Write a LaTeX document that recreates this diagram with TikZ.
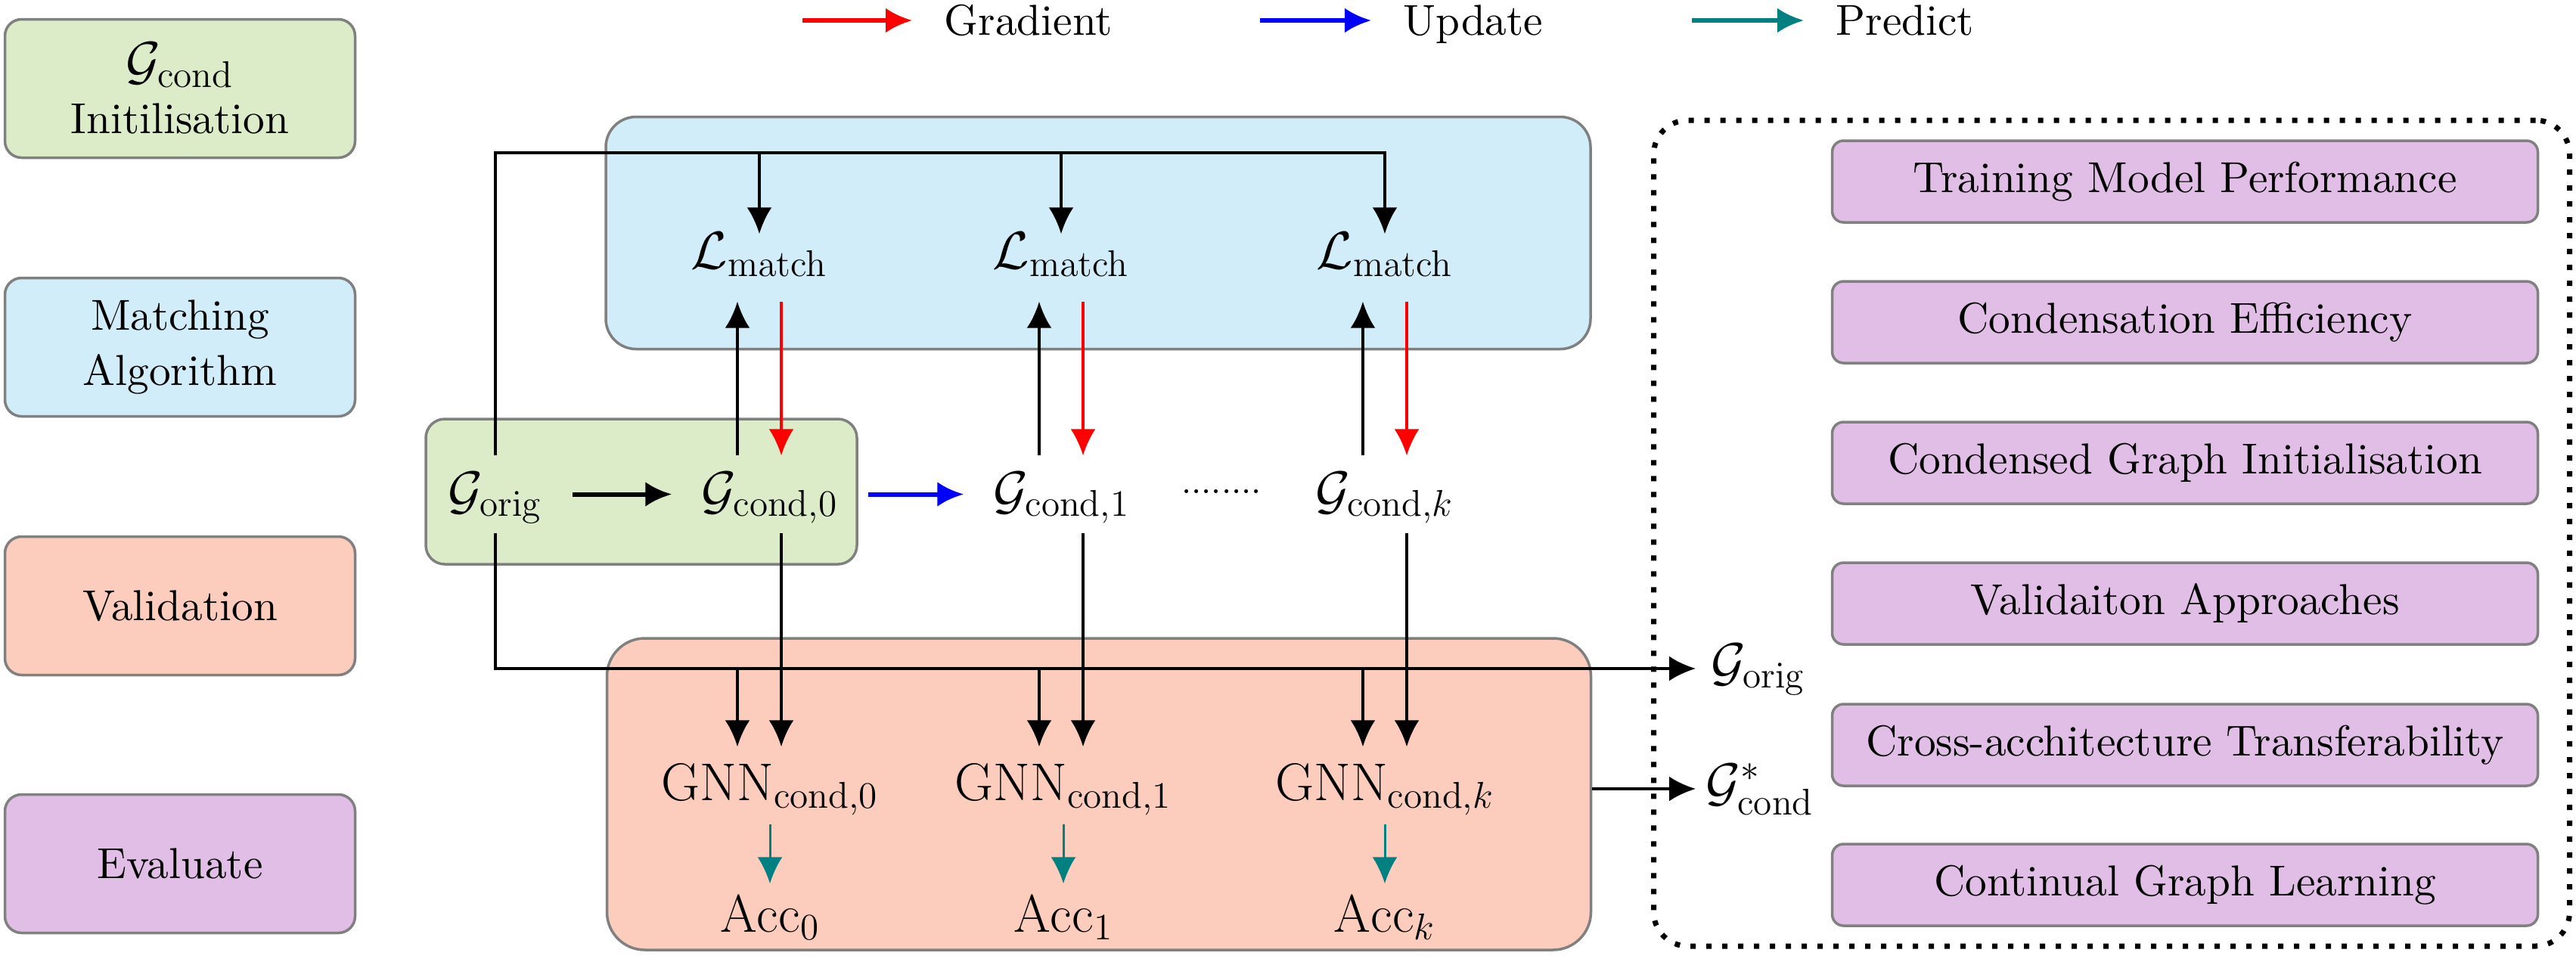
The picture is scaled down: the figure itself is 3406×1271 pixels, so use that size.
\RequirePackage{fix-cm}
\documentclass[tikz,border=0pt]{standalone}
\usepackage{amsmath}
\usepackage{amssymb}
\usepackage[no-math]{fontspec}
\setmainfont{lmroman10-regular.otf}[BoldFont=lmroman10-bold.otf, ItalicFont=lmroman10-italic.otf]
\usepackage{tikz}
\usetikzlibrary{arrows.meta}
\newcommand{\Gs}[1]{\mathcal{G}_{\mathrm{#1}}}
\newcommand{\mainsize}{\fontsize{20}{24}\selectfont}
\definecolor{initgreen}{RGB}{220,235,200}
\definecolor{matchblue}{RGB}{209,237,250}
\definecolor{valred}{RGB}{252,204,188}
\definecolor{evalpurple}{RGB}{225,190,230}
\definecolor{predteal}{RGB}{0,128,128}
\tikzset{
  tip/.style={-{Latex[length=3.5mm,width=3.3mm]}, line width=0.4mm},
  grad/.style={tip, red, line width=0.33mm},
  pred/.style={tip, predteal, line width=0.3mm},
  sidebox/.style={draw=black!50, line width=0.35mm, rounded corners=2.2mm, minimum width=46.3mm,
    minimum height=18.3mm, align=center, font=\fontsize{16.3}{20.5}\selectfont},
  bigbox/.style={draw=black!50, line width=0.35mm},
  evalbox/.style={draw=black!50, line width=0.35mm, fill=evalpurple, rounded corners=1.5mm,
    minimum width=93.3mm, minimum height=10.8mm, font=\fontsize{16.3}{20}\selectfont},
  legtext/.style={anchor=west, inner xsep=4.2mm, inner ysep=0pt, text height=3.8mm, text depth=0mm,
    font=\fontsize{16.3}{20}\selectfont},
  lmnode/.style={anchor=base, inner sep=0pt, text height=4.5mm, text depth=4.3mm, font=\mainsize},
  gnode/.style={anchor=base, inner xsep=3.9mm, inner ysep=0pt, text height=6.9mm, text depth=3.2mm, font=\mainsize},
  gnnnode/.style={anchor=base, inner sep=0pt, text height=7mm, text depth=3.1mm, font=\mainsize},
  accnode/.style={anchor=base, inner sep=0pt, text height=6.3mm, text depth=0.5mm, font=\mainsize},
  outnode/.style={anchor=west, inner xsep=1.3mm, inner ysep=0pt, text height=5mm, text depth=2mm, font=\mainsize}
}
\begin{document}
\begin{tikzpicture}[x=0.1mm,y=-0.1mm]

  \useasboundingbox (0,0) rectangle (3406,1271);

  % left legend
  \node[sidebox, fill=initgreen] (sinit) at (238,117) {{\mainsize$\Gs{cond}$}\\Initilisation};
  \node[sidebox, fill=matchblue] (smatch) at (238,459) {Matching\\Algorithm};
  \node[sidebox, fill=valred] (sval) at (238,801) {Validation};
  \node[sidebox, fill=evalpurple] (seval) at (238,1142) {Evaluate};

  % arrow legend
  \coordinate (lg1) at (1061,27);
  \coordinate (lg2) at (1666,27);
  \coordinate (lg3) at (2237,27);
  \node[legtext] (lgrad) at (1206,27) {Gradient};
  \node[legtext] (lupd) at (1813,27) {Update};
  \node[legtext] (lpred) at (2385,27) {Predict};
  \draw[tip, red, line width=0.55mm] (lg1) -- (lgrad.west);
  \draw[tip, blue, line width=0.55mm] (lg2) -- (lupd.west);
  \draw[tip, predteal, line width=0.55mm] (lg3) -- (lpred.west);

  % stage boxes
  \node[bigbox, fill=matchblue, rounded corners=4mm, minimum width=130.2mm, minimum height=30.7mm] (algbox) at (1452,308) {};
  \node[bigbox, fill=initgreen, rounded corners=2.5mm, minimum width=57mm, minimum height=19.2mm] (initbox) at (848,650) {};
  \node[bigbox, fill=valred, rounded corners=5mm, minimum width=130.1mm, minimum height=41.2mm] (valbox) at (1453,1050) {};
  \node[draw, line width=0.7mm, dash pattern=on 0.7mm off 1.4mm, rounded corners=4.5mm,
    minimum width=121.1mm, minimum height=109.2mm] (evalframe) at (2792,705) {};

  % evaluation list
  \node[evalbox] (e1) at (2889,240) {Training Model Performance};
  \node[evalbox] (e2) at (2889,426) {Condensation Efficiency};
  \node[evalbox] (e3) at (2889,612) {Condensed Graph Initialisation};
  \node[evalbox] (e4) at (2889,798) {Validaiton Approaches};
  \node[evalbox] (e5) at (2889,985) {Cross-acchitecture Transferability};
  \node[evalbox] (e6) at (2889,1170) {Continual Graph Learning};

  % matching losses
  \node[lmnode] (lm1) at (1004,355) {$\mathcal{L}_{\mathrm{match}}$};
  \node[lmnode] (lm2) at (1403,355) {$\mathcal{L}_{\mathrm{match}}$};
  \node[lmnode] (lm3) at (1831,355) {$\mathcal{L}_{\mathrm{match}}$};

  % graphs
  \node[gnode] (gorig) at (655,672) {$\Gs{orig}$};
  \node[gnode] (gc0) at (1018,672) {$\mathcal{G}_{\mathrm{cond},0}$};
  \node[gnode] (gc1) at (1404,672) {$\mathcal{G}_{\mathrm{cond},1}$};
  \node[gnode] (gck) at (1831,672) {$\mathcal{G}_{\mathrm{cond},k}$};
  \node[inner sep=0pt, font=\fontsize{13.5}{14}\selectfont] (gdots) at (1615,650) {........};

  % validation
  \node[gnnnode] (gnn0) at (1018,1058) {$\mathrm{GNN}_{\mathrm{cond},0}$};
  \node[gnnnode] (gnn1) at (1406,1058) {$\mathrm{GNN}_{\mathrm{cond},1}$};
  \node[gnnnode] (gnnk) at (1831,1058) {$\mathrm{GNN}_{\mathrm{cond},k}$};
  \node[accnode] (acc0) at (1018,1232) {$\mathrm{Acc}_0$};
  \node[accnode] (acc1) at (1406,1232) {$\mathrm{Acc}_1$};
  \node[accnode] (acck) at (1831,1232) {$\mathrm{Acc}_k$};

  % outputs
  \node[outnode, inner xsep=2mm] (oorig) at (2242,884) {$\Gs{orig}$};
  \node[outnode] (ostar) at (2242,1043) {$\mathcal{G}^{*}_{\mathrm{cond}}$};

  \coordinate (tbus) at (1831,202);
  \coordinate (c0l) at ([xshift=-2.9mm]lm1.south);
  \coordinate (c0r) at ([xshift=2.9mm]lm1.south);
  \coordinate (c1l) at ([xshift=-2.9mm]lm2.south);
  \coordinate (c1r) at ([xshift=2.9mm]lm2.south);
  \coordinate (ckl) at ([xshift=-2.9mm]lm3.south);
  \coordinate (ckr) at ([xshift=2.9mm]lm3.south);

  \draw[tip] (gorig.north) |- (tbus) -- (lm3.north); %% orig -> L_k
  \draw[tip] (lm1.north |- tbus) -- (lm1.north);
  \draw[tip] (lm2.north |- tbus) -- (lm2.north);

  \draw[tip] (c0l |- gc0.north) -- (c0l); %% cond,0 -> L
  \draw[tip] (c1l |- gc1.north) -- (c1l);
  \draw[tip] (ckl |- gck.north) -- (ckl);
  \draw[grad] (c0r) -- (c0r |- gc0.north); %% L -> cond,0
  \draw[grad] (c1r) -- (c1r |- gc1.north);
  \draw[grad] (ckr) -- (ckr |- gck.north);

  \draw[tip, line width=0.6mm] (gorig.east) -- (gc0.west);
  \draw[tip, blue, line width=0.6mm] (gc0.east) -- (gc1.west);

  \draw[tip] (gorig.south) |- (oorig.west); %% orig -> out
  \draw[tip] (c0l |- oorig.west) -- (c0l |- gnn0.north);
  \draw[tip] (c1l |- oorig.west) -- (c1l |- gnn1.north);
  \draw[tip] (ckl |- oorig.west) -- (ckl |- gnnk.north);
  \draw[tip] (c0r |- gc0.south) -- (c0r |- gnn0.north); %% cond -> GNN
  \draw[tip] (c1r |- gc1.south) -- (c1r |- gnn1.north);
  \draw[tip] (ckr |- gck.south) -- (ckr |- gnnk.north);

  \draw[pred] (gnn0.south) -- (acc0.north);
  \draw[pred] (gnn1.south) -- (acc1.north);
  \draw[pred] (gnnk.south) -- (acck.north);

  \draw[tip] (valbox.east |- ostar.west) -- (ostar.west); %% val -> out

\end{tikzpicture}
\end{document}
